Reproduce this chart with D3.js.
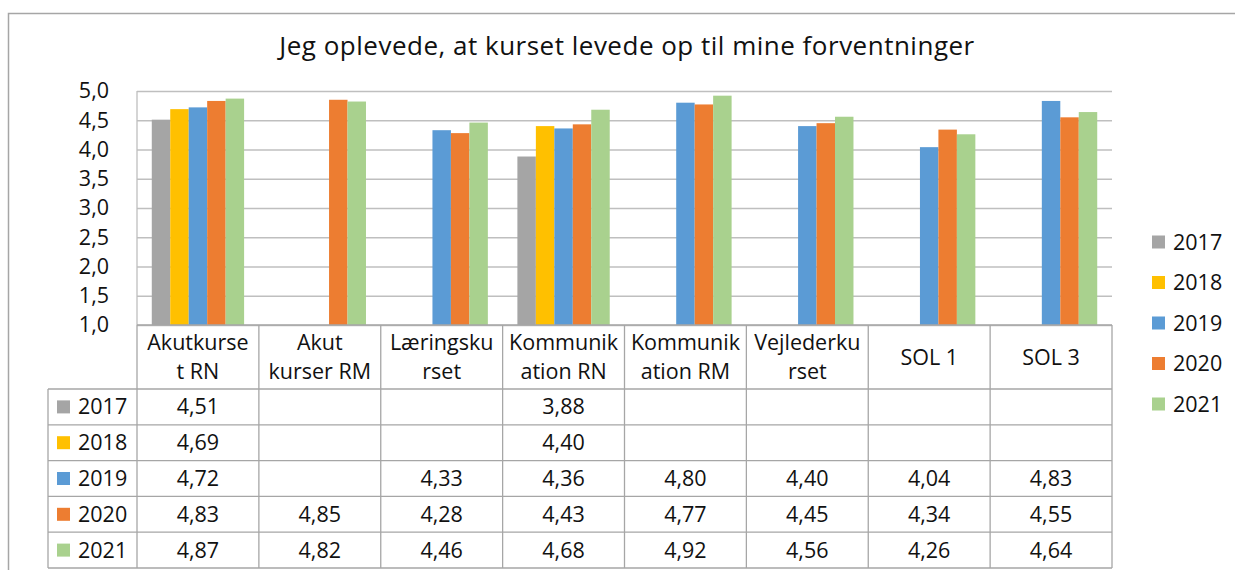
<!DOCTYPE html>
<html>
<head>
<meta charset="utf-8">
<script src="https://cdn.jsdelivr.net/npm/d3@7"></script>
<style>
  body { margin: 0; background: #fff; }
  svg { display: block; font-family: "Open Sans", sans-serif; }
  text { fill: #111; }
</style>
</head>
<body>
<svg id="chart" width="1235" height="570"></svg>
<script>
// data
const categories = ["Akutkurset RN", "Akut kurser RM", "Læringskurset", "Kommunikation RN",
  "Kommunikation RM", "Vejlederkurset", "SOL 1", "SOL 3"];
const categoryLines = [["Akutkurse", "t RN"], ["Akut", "kurser RM"], ["Læringsku", "rset"],
  ["Kommunik", "ation RN"], ["Kommunik", "ation RM"], ["Vejlederku", "rset"], ["SOL 1"], ["SOL 3"]];
const years = ["2017", "2018", "2019", "2020", "2021"];
const v2017 = [4.51, null, null, 3.88, null, null, null, null];
const v2018 = [4.69, null, null, 4.40, null, null, null, null];
const v2019 = [4.72, null, 4.33, 4.36, 4.80, 4.40, 4.04, 4.83];
const v2020 = [4.83, 4.85, 4.28, 4.43, 4.77, 4.45, 4.34, 4.55];
const v2021 = [4.87, 4.82, 4.46, 4.68, 4.92, 4.56, 4.26, 4.64];
const yTicks = [1.0, 1.5, 2.0, 2.5, 3.0, 3.5, 4.0, 4.5, 5.0];
const title = "Jeg oplevede, at kurset levede op til mine forventninger";

const series = [v2017, v2018, v2019, v2020, v2021];
const colors = d3.scaleOrdinal().domain(years)
  .range(["#A5A5A5", "#FFC000", "#5B9BD5", "#ED7D31", "#A9D18E"]);
const fmt = d => d3.format(".2f")(d).replace(".", ",");

const svg = d3.select("#chart");
const plotLeft = 137, plotRight = 1112, plotTop = 91, plotBottom = 325;
const rowH = 35.8, headH = 64, tableLeft = 48;
const fs = "21.5px";

// outer frame (only left + top visible in the crop)
svg.append("path")
  .attr("d", `M8.5,570 V13.5 H1235`)
  .attr("fill", "none").attr("stroke", "#A6A6A6").attr("stroke-width", 1.5);

svg.append("text")
  .attr("x", 627).attr("y", 55)
  .attr("text-anchor", "middle")
  .style("font-size", "26px")
  .style("letter-spacing", "0.5px")
  .text(title);

const x = d3.scaleBand().domain(categories).range([plotLeft, plotRight]).padding(0);
const x1 = d3.scaleBand().domain(years).range([0, x.bandwidth()])
  .paddingInner(0).paddingOuter(0.8);
const y = d3.scaleLinear().domain([1, 5]).range([plotBottom, plotTop]);

// gridlines
svg.append("g")
  .attr("transform", `translate(${plotLeft},0)`)
  .call(d3.axisLeft(y).tickValues(yTicks).tickSize(-(plotRight - plotLeft)).tickFormat(""))
  .call(g => g.select(".domain").remove())
  .call(g => g.selectAll("line").attr("stroke", "#BFBFBF").attr("stroke-width", 1.3));

// y labels
svg.append("g")
  .attr("transform", `translate(${plotLeft - 25},0)`)
  .call(d3.axisLeft(y).tickValues(yTicks).tickSize(0).tickFormat(d => d3.format(".1f")(d).replace(".", ",")))
  .call(g => g.select(".domain").remove())
  .call(g => g.selectAll("text").attr("fill", "#111").style("font-size", fs)
    .style("font-family", "'Open Sans', sans-serif"));

// bars
years.forEach((yr, i) => {
  svg.append("g").selectAll("rect")
    .data(series[i].map((v, j) => ({ v, c: categories[j] })).filter(d => d.v != null))
    .join("rect")
    .attr("x", d => x(d.c) + x1(yr))
    .attr("width", x1.bandwidth())
    .attr("y", d => y(d.v))
    .attr("height", d => y(1) - y(d.v))
    .attr("fill", colors(yr));
});

// axis line (vertical)
svg.append("line")
  .attr("x1", plotLeft).attr("x2", plotLeft).attr("y1", plotTop).attr("y2", plotBottom)
  .attr("stroke", "#BFBFBF").attr("stroke-width", 1.3);

// data table
const tbl = svg.append("g");
const lineCol = "#A6A6A6";
const tableBottom = plotBottom + headH + rowH * years.length;
// horizontal lines
tbl.append("line").attr("x1", plotLeft).attr("x2", plotRight).attr("y1", plotBottom).attr("y2", plotBottom)
  .attr("stroke", lineCol).attr("stroke-width", 1.3);
d3.range(years.length + 1).forEach(i => {
  const yy = plotBottom + headH + rowH * i;
  tbl.append("line").attr("x1", tableLeft).attr("x2", plotRight).attr("y1", yy).attr("y2", yy)
    .attr("stroke", lineCol).attr("stroke-width", 1.3);
});
// vertical lines
categories.concat(["end"]).forEach((c, i) => {
  const xx = i < categories.length ? x(c) : plotRight;
  tbl.append("line").attr("x1", xx).attr("x2", xx).attr("y1", plotBottom).attr("y2", tableBottom)
    .attr("stroke", lineCol).attr("stroke-width", 1.3);
});
tbl.append("line").attr("x1", tableLeft).attr("x2", tableLeft)
  .attr("y1", plotBottom + headH).attr("y2", tableBottom)
  .attr("stroke", lineCol).attr("stroke-width", 1.3);

// header labels
categories.forEach((c, i) => {
  const lines = categoryLines[i];
  const cy = plotBottom + headH / 2;
  const t = tbl.append("text")
    .attr("x", x(c) + x.bandwidth() / 2)
    .attr("text-anchor", "middle")
    .style("font-size", fs);
  lines.forEach((ln, k) => {
    t.append("tspan")
      .attr("x", x(c) + x.bandwidth() / 2)
      .attr("y", cy + (k - (lines.length - 1) / 2) * 29)
      .attr("dy", "0.35em")
      .text(ln);
  });
});

// rows
years.forEach((yr, i) => {
  const cy = plotBottom + headH + rowH * i + rowH / 2;
  tbl.append("rect").attr("x", 57).attr("y", cy - 6.5).attr("width", 13).attr("height", 13)
    .attr("fill", colors(yr));
  tbl.append("text").attr("x", 78).attr("y", cy).attr("dy", "0.35em")
    .style("font-size", fs).text(yr);
  series[i].forEach((v, j) => {
    if (v == null) return;
    tbl.append("text")
      .attr("x", x(categories[j]) + x.bandwidth() / 2)
      .attr("y", cy).attr("dy", "0.35em")
      .attr("text-anchor", "middle")
      .style("font-size", fs)
      .text(fmt(v));
  });
});

// legend
const legend = svg.append("g");
years.forEach((yr, i) => {
  const cy = 242 + i * 40.5;
  legend.append("rect").attr("x", 1152).attr("y", cy - 6.5).attr("width", 13).attr("height", 13)
    .attr("fill", colors(yr));
  legend.append("text").attr("x", 1173).attr("y", cy).attr("dy", "0.35em")
    .style("font-size", fs).text(yr);
});
</script>
</body>
</html>
